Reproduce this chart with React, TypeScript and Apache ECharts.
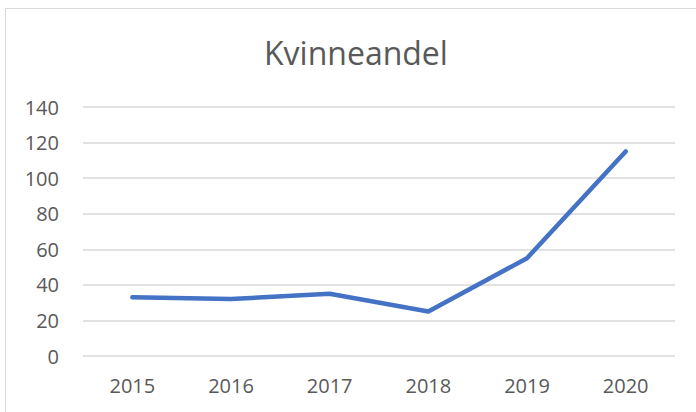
import React, { useEffect, useRef } from "react";
import * as echarts from "echarts";

const years = ["2015", "2016", "2017", "2018", "2019", "2020"];
const values = [33, 32, 35, 25, 55, 115];
const chartTitle = "Kvinneandel";

export default function App() {
  const ref = useRef<HTMLDivElement>(null);
  useEffect(() => {
    if (!ref.current) return;
    const chart = echarts.init(ref.current, null, { renderer: "svg" });
    const font = "'Open Sans', 'Liberation Sans', sans-serif";
    chart.setOption({
      animation: false,
      backgroundColor: "#ffffff",
      title: {
        text: chartTitle,
        left: 259,
        top: 31,
        textStyle: { fontFamily: font, fontSize: 32, fontWeight: "normal", color: "#595959" },
      },
      graphic: [
        {
          type: "rect",
          shape: { x: 5.5, y: 8.5, width: 720, height: 430 },
          style: { fill: "none", stroke: "#d9d9d9", lineWidth: 1 },
          silent: true,
        },
      ],
      grid: { left: 83, right: 21, top: 107, bottom: 56 },
      xAxis: {
        type: "category",
        data: years,
        boundaryGap: true,
        axisLine: { show: false },
        axisTick: { show: false },
        axisLabel: { fontFamily: font, fontSize: 20, color: "#595959", margin: 19 },
      },
      yAxis: {
        type: "value",
        min: 0,
        max: 140,
        interval: 20,
        axisLine: { show: false },
        axisTick: { show: false },
        axisLabel: { fontFamily: font, fontSize: 20, color: "#595959", margin: 24 },
        splitLine: { lineStyle: { color: "#d9d9d9", width: 1.5 } },
      },
      series: [
        {
          type: "line",
          data: values,
          symbol: "none",
          lineStyle: { color: "#4472C4", width: 4.5, cap: "round", join: "round" },
        },
      ],
    });
    return () => chart.dispose();
  }, []);
  return (
    <div
      ref={ref}
      style={{ position: "fixed", left: 0, top: 0, width: 696, height: 412 }}
    />
  );
}
